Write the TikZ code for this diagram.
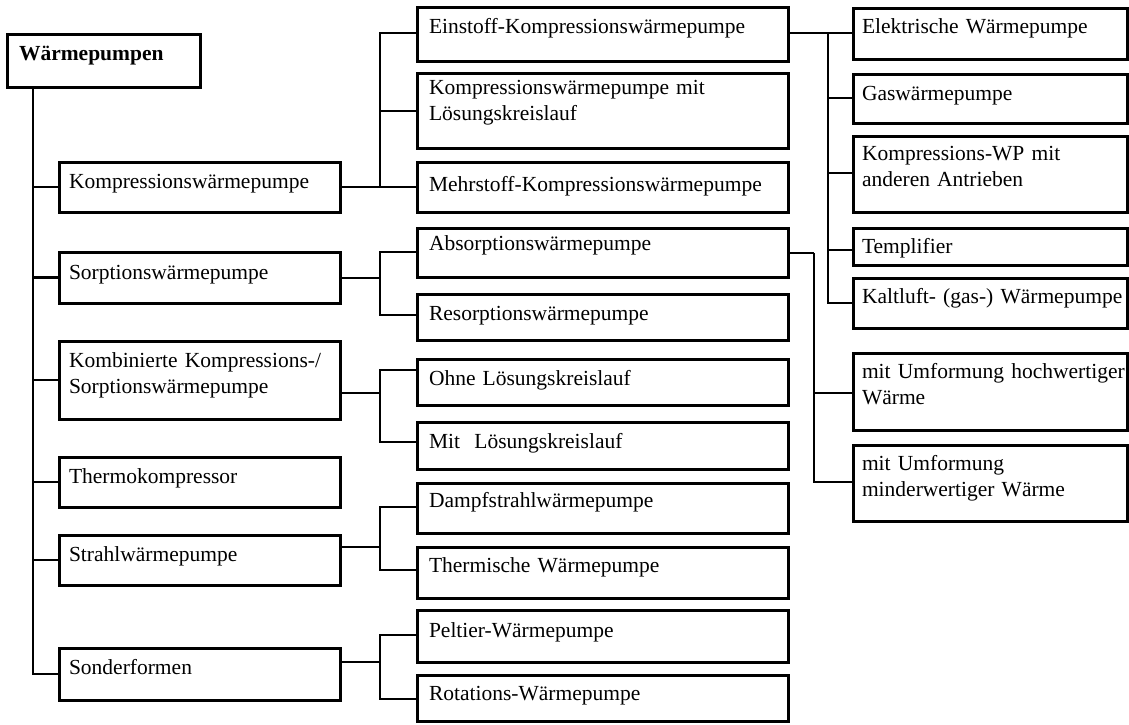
\documentclass[tikz,border=0pt]{standalone}
\usepackage{fontspec}
\setmainfont{Liberation Serif}
\newcommand\wbox[8]{% name, x1, y1, x2, y2, inset, baseline offset, text
  \node[wb, anchor=north west, minimum width={(#4-#2)*1pt}, minimum height={(#5-#3)*1pt}] (#1) at (#2,#3) {};
  \node[wt] (#1t) at (#2+#6,#3+#7) {#8};
}
\newcommand\grp[4]{% parent, parent y, bus x, list child/y
  \draw[ln] (#1.east |- 0,#2) -- (#3,#2);
  \foreach \c/\y in {#4} { \draw[ln] (#3,#2) |- (\c.west |- 0,\y); }
}
\begin{document}
\begin{tikzpicture}[x=1pt,y=-1pt,
  wb/.style={draw, line width=3pt, inner sep=0pt, outer sep=0pt},
  wt/.style={inner sep=0pt, outer sep=0pt, anchor=base west, text width=400pt, align=left,
    font=\fontsize{21.5}{26.5}\selectfont},
  ln/.style={line width=2.3pt}]
\useasboundingbox (0,0) rectangle (1129,724);
% root
\wbox{root}{7}{34}{200}{87}{12}{26}{\bfseries Wärmepumpen}
% level 1
\wbox{kompr}{59}{162}{340}{212}{10}{26}{Kompressionswärmepumpe}
\wbox{sorp}{59}{252}{340}{303}{10}{27}{Sorptionswärmepumpe}
\wbox{kombi}{59}{341}{340}{419}{10}{26}{Kombinierte Kompressions-/\\Sorptionswärmepumpe}
\wbox{thermo}{59}{457}{340}{507}{10}{26}{Thermokompressor}
\wbox{strahl}{59}{535}{340}{585}{10}{26}{Strahlwärmepumpe}
\wbox{sonder}{59}{648}{340}{700}{10}{26}{Sonderformen}
% level 2
\wbox{ein}{417}{7}{788}{61}{12}{26}{Einstoff-Kompressionswärmepumpe}
\wbox{kml}{417}{73}{788}{148}{12}{21}{Kompressionswärmepumpe mit\\Lösungskreislauf}
\wbox{mehr}{417}{162}{788}{212}{12}{29}{Mehrstoff-Kompressionswärmepumpe}
\wbox{absorp}{417}{228}{788}{277}{12}{22}{Absorptionswärmepumpe}
\wbox{resorp}{417}{294}{788}{340}{12}{26}{Resorptionswärmepumpe}
\wbox{ohne}{417}{359}{788}{405}{12}{26}{Ohne Lösungskreislauf}
\wbox{mit}{417}{422}{788}{469}{12}{26}{Mit~~Lösungskreislauf}
\wbox{dampf}{417}{483}{788}{533}{12}{24}{Dampfstrahlwärmepumpe}
\wbox{therm}{417}{547}{788}{598}{12}{25}{Thermische Wärmepumpe}
\wbox{pelt}{417}{610}{788}{662}{12}{27}{Peltier-Wärmepumpe}
\wbox{rot}{417}{675}{788}{721}{12}{25}{Rotations-Wärmepumpe}
% level 3
\wbox{elek}{853}{8}{1127}{59}{9}{25}{Elektrische Wärmepumpe}
\wbox{gas}{853}{74}{1127}{123}{9}{26}{Gaswärmepumpe}
\wbox{kwp}{853}{136}{1127}{212}{9}{24}{Kompressions-WP mit\\anderen Antrieben}
\wbox{templ}{853}{228}{1127}{265}{9}{25}{Templifier}
\wbox{kalt}{853}{278}{1127}{328}{9}{25}{Kaltluft- (gas-) Wärmepumpe}
\wbox{hoch}{853}{353}{1127}{430}{9}{25}{mit Umformung hochwertiger\\Wärme}
\wbox{minder}{853}{445}{1127}{521}{9}{25}{mit Umformung\\minderwertiger Wärme}
% trunk
\draw[ln] (root.south -| 33,0) |- (sonder.west);
\foreach \n in {kompr,sorp,kombi,thermo,strahl} { \draw[ln] (\n.west -| 33,0) -- (\n.west); }
% groups
\grp{kompr}{187}{380}{ein/33,kml/111,mehr/187}
\grp{sorp}{278}{380}{absorp/252,resorp/315}
\grp{kombi}{393}{380}{ohne/370,mit/442}
\grp{strahl}{547}{380}{dampf/507,therm/570}
\grp{sonder}{662}{380}{pelt/635,rot/699}
\grp{ein}{33}{828}{elek/33,gas/98,kwp/173,templ/250,kalt/303}
\grp{absorp}{253}{814}{hoch/393,minder/482}
\end{tikzpicture}
\end{document}
